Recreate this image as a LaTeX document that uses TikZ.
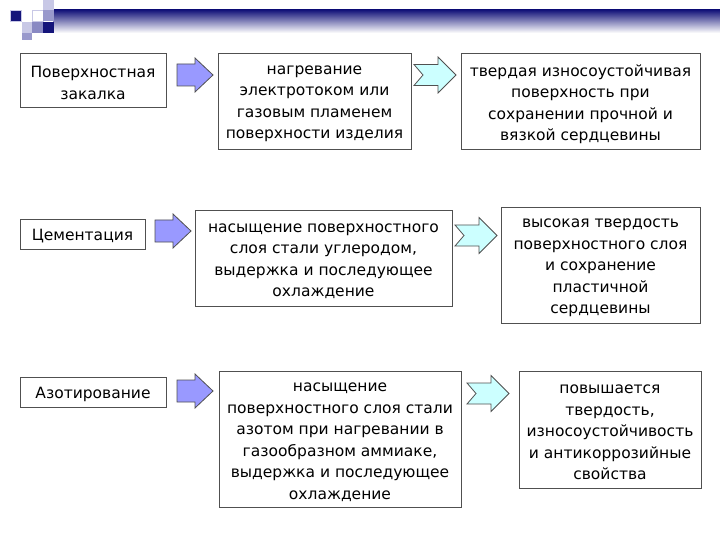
\documentclass[tikz,border=0pt]{standalone}
\usepackage{fontspec}
\setmainfont{DejaVu Sans}
\definecolor{navy}{HTML}{14147A}
\definecolor{midlav}{HTML}{7C7CBC}
\definecolor{lav}{HTML}{C8C8E6}
\definecolor{lav2}{HTML}{9999CC}
\definecolor{boxline}{HTML}{505050}
\definecolor{arrblue}{HTML}{9999FF}
\definecolor{arrcyan}{HTML}{CCFFFF}
\begin{document}
\begin{tikzpicture}[x=1pt,y=-1pt,
  box/.style={draw=boxline, line width=0.9pt, fill=white, inner sep=0pt},
  txt/.style={align=center, inner sep=0pt, font=\fontsize{15.5}{21.5}\selectfont},
  pics/blockarr/.style={code={\draw[draw=boxline, line width=0.8pt, fill=arrblue]
     (0,-11)--(18,-11)--(18,-17)--(36,0)--(18,17)--(18,11)--(0,11)--cycle;}},
  pics/notcharr/.style={code={\draw[draw=boxline, line width=0.8pt, fill=arrcyan]
     (0,-10.5)--(24,-10.5)--(24,-18)--(42,0)--(24,18)--(24,10.5)--(0,10.5)--(9,0)--cycle;}}
]
\useasboundingbox (0,0) rectangle (720,540);
\fill[white] (0,0) rectangle (720,540);
% header decoration
\shade[left color=navy, middle color=midlav, right color=white, shading angle=0] (53,10) rectangle (720,33);
\fill[navy] (43,22) rectangle (54,33);
\fill[navy, draw=lav, line width=0.5pt] (10,10) rectangle (21,21);
\fill[white, draw=lav, line width=0.5pt] (32,10) rectangle (43,21);
\fill[lav] (43,0) rectangle (54,10);
\fill[lav2] (43,10) rectangle (54,21);
\fill[lav] (22,22) rectangle (32,33);
\fill[midlav!90] (32,22) rectangle (43,33);
\fill[lav2] (22,33) rectangle (32,40);

% row 1
\node[box, minimum width=146pt, minimum height=54pt] (b11) at (93,80) {};
\node[txt] (t11) at ([yshift=-3pt]b11.center) {Поверхностная\\закалка};
\node[box, minimum width=193pt, minimum height=96pt] (b12) at (314.5,101) {};
\node[txt] (t12) at ([yshift=-3pt]b12.center) {нагревание\\электротоком или\\газовым пламенем\\поверхности изделия};
\node[box, minimum width=239pt, minimum height=96pt] (b13) at (580.5,101) {};
\node[txt] (t13) at ([yshift=-3pt]b13.center) {твердая износоустойчивая\\поверхность при\\сохранении прочной и\\вязкой сердцевины};
\pic (a11) at (177,75) {blockarr};
\pic (a12) at (414,75) {notcharr};

% row 2
\node[box, minimum width=125pt, minimum height=30pt] (b21) at (82.5,234) {};
\node[txt] (t21) at ([yshift=-2pt]b21.center) {Цементация};
\node[box, minimum width=257pt, minimum height=96pt] (b22) at (323.5,258) {};
\node[txt] (t22) at ([yshift=-3pt]b22.center) {насыщение поверхностного\\слоя стали углеродом,\\выдержка и последующее\\охлаждение};
\node[box, minimum width=199pt, minimum height=116pt] (b23) at (600.5,265) {};
\node[txt] (t23) at ([yshift=-3pt]b23.center) {высокая твердость\\поверхностного слоя\\и сохранение\\пластичной\\сердцевины};
\pic (a21) at (155,231) {blockarr};
\pic (a22) at (455,235.5) {notcharr};

% row 3
\node[box, minimum width=146pt, minimum height=30pt] (b31) at (93,392) {};
\node[txt] (t31) at ([yshift=-2pt]b31.center) {Азотирование};
\node[box, minimum width=242pt, minimum height=136pt] (b32) at (340,439) {};
\node[txt] (t32) at ([yshift=-3pt]b32.center) {насыщение\\поверхностного слоя стали\\азотом при нагревании в\\газообразном аммиаке,\\выдержка и последующее\\охлаждение};
\node[box, minimum width=182pt, minimum height=117pt] (b33) at (610,429.5) {};
\node[txt] (t33) at ([yshift=-3pt]b33.center) {повышается\\твердость,\\износоустойчивость\\и антикоррозийные\\свойства};
\pic (a31) at (177,391) {blockarr};
\pic (a32) at (467,393.5) {notcharr};
\end{tikzpicture}
\end{document}
